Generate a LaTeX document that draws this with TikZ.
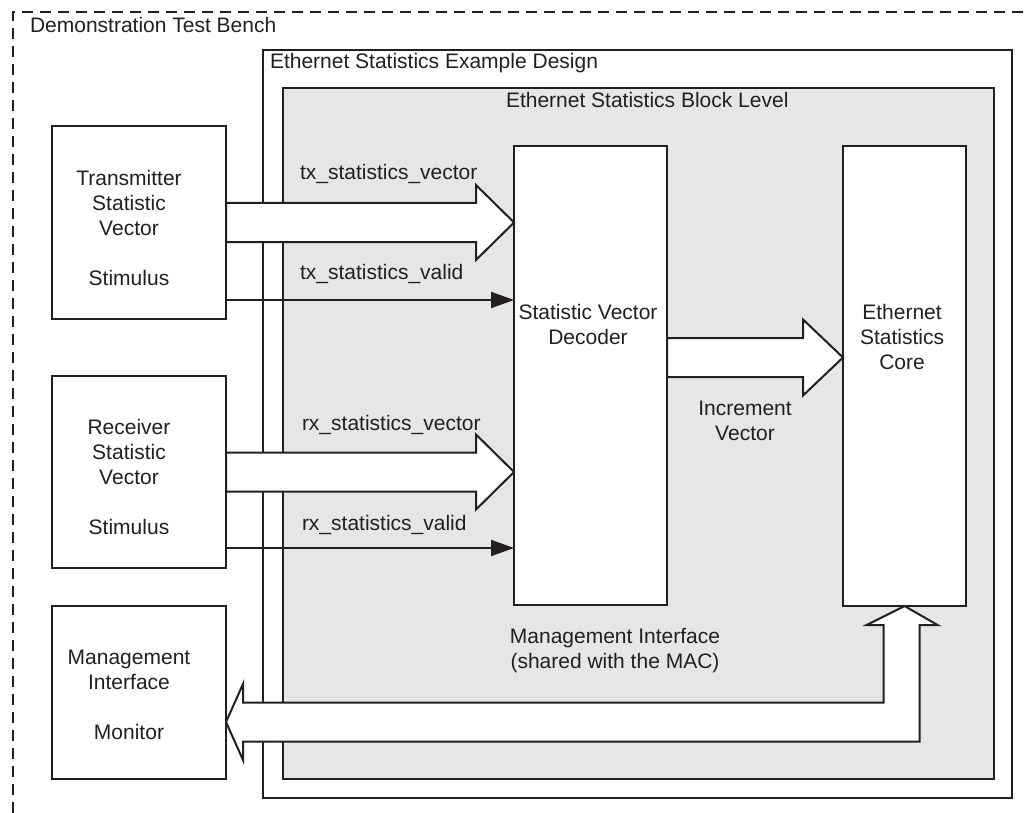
\documentclass[tikz,border=0pt]{standalone}
\usepackage{fontspec}
\setmainfont{Liberation Sans}
\usetikzlibrary{calc,arrows.meta}
\definecolor{linec}{HTML}{231F20}
\definecolor{blockgray}{HTML}{E5E6E8}
\tikzset{
  txt/.style={font=\fontsize{21}{25}\selectfont, text=linec, inner sep=0pt, outer sep=0pt},
  box/.style={draw=linec, line width=2pt, fill=white, inner sep=0pt, outer sep=0pt},
  fatarrow/.style={draw=linec, line width=2pt, fill=white, line join=miter},
  thinarrow/.style={draw=linec, line width=2pt, -{Triangle[length=23pt,width=16pt]}},
  dashborder/.style={draw=linec, line width=2pt, dash pattern=on 11pt off 7pt}
}
\begin{document}
\begin{tikzpicture}[x=1pt,y=-1pt]
\useasboundingbox (0,0) rectangle (1030,813);
% outer dashed test bench border
\coordinate (tbcorner) at (13,12);
\draw[dashborder] (13,813) -- (tbcorner) -- (1030,12);
\node[txt, anchor=base west] (tblabel) at (30,33) {Demonstration Test Bench};
% example design and block level
\node[box, minimum width=749pt, minimum height=748pt] (design) at (637.5,424) {};
\node[txt, anchor=base west] (designlabel) at (270,69) {Ethernet Statistics Example Design};
\node[box, fill=blockgray, minimum width=711pt, minimum height=691pt] (block) at (638.5,433.5) {};
\node[txt, anchor=base west] (blocklabel) at (506,108) {Ethernet Statistics Block Level};
% left stimulus / monitor boxes
\node[box, minimum width=174pt, minimum height=193pt] (txbox) at (139,222.5) {};
\node[txt, anchor=base, align=center] (txtext) at (129,285) {Transmitter\\Statistic\\Vector\\[25pt]Stimulus};
\node[box, minimum width=174pt, minimum height=192pt] (rxbox) at (139,472) {};
\node[txt, anchor=base, align=center] (rxtext) at (129,534) {Receiver\\Statistic\\Vector\\[25pt]Stimulus};
\node[box, minimum width=174pt, minimum height=173pt] (mgmt) at (139,692.5) {};
\node[txt, anchor=base, align=center] (mgmttext) at (129,739) {Management\\Interface\\[25pt]Monitor};
% decoder and core
\node[box, minimum width=153pt, minimum height=459pt] (dec) at (590.5,375.5) {};
\node[txt, anchor=base, align=center] (dectext) at (588,344) {Statistic Vector\\Decoder};
\node[box, minimum width=123pt, minimum height=460pt] (core) at (904.5,376) {};
\node[txt, anchor=base, align=center] (coretext) at (902,369) {Ethernet\\Statistics\\Core};
% tx vector fat arrow
\coordinate (txtip) at (dec.west |- txbox.east);
\draw[fatarrow] ($(txbox.east)+(0,-19.5)$) -- ($(txtip)+(-38,-19.5)$) -- ($(txtip)+(-38,-37.5)$) -- (txtip)
  -- ($(txtip)+(-38,37.5)$) -- ($(txtip)+(-38,19.5)$) -- ($(txbox.east)+(0,19.5)$) -- cycle;
\node[txt, anchor=base west] (txveclabel) at (300,179) {tx\_statistics\_vector};
\node[txt, anchor=base west] (txvallabel) at (300,279) {tx\_statistics\_valid};
\coordinate (txvalstart) at (txbox.east |- 0,300);
\draw[thinarrow] (txvalstart) -- (dec.west |- txvalstart);
% rx vector fat arrow
\coordinate (rxtip) at (dec.west |- rxbox.east);
\draw[fatarrow] ($(rxbox.east)+(0,-19.5)$) -- ($(rxtip)+(-38,-19.5)$) -- ($(rxtip)+(-38,-37.5)$) -- (rxtip)
  -- ($(rxtip)+(-38,37.5)$) -- ($(rxtip)+(-38,19.5)$) -- ($(rxbox.east)+(0,19.5)$) -- cycle;
\node[txt, anchor=base west] (rxveclabel) at (302,430) {rx\_statistics\_vector};
\node[txt, anchor=base west] (rxvallabel) at (302,530) {rx\_statistics\_valid};
\coordinate (rxvalstart) at (rxbox.east |- 0,548);
\draw[thinarrow] (rxvalstart) -- (dec.west |- rxvalstart);
% increment vector fat arrow
\coordinate (incstart) at (dec.east |- 0,357.5);
\coordinate (inctip) at (core.west |- incstart);
\draw[fatarrow] ($(incstart)+(0,-19.5)$) -- ($(inctip)+(-40,-19.5)$) -- ($(inctip)+(-40,-38)$) -- (inctip)
  -- ($(inctip)+(-40,38)$) -- ($(inctip)+(-40,19.5)$) -- ($(incstart)+(0,19.5)$) -- cycle;
\node[txt, anchor=base, align=center] (inclabel) at (745,440) {Increment\\Vector};
% management interface fat double arrow
\coordinate (mtip) at ($(mgmt.east)+(0,29.5)$);
\coordinate (mcorner) at (core.south |- mtip);
\draw[fatarrow] (mtip) -- ($(mtip)+(17,-38)$) -- ($(mtip)+(17,-19.5)$) -- ($(mcorner)+(-21,-19.5)$)
  -- ($(core.south)+(-21,19)$) -- ($(core.south)+(-38,19)$) -- (core.south) -- ($(core.south)+(33,19)$)
  -- ($(core.south)+(15,19)$) -- ($(mcorner)+(15,19.5)$) -- ($(mtip)+(17,19.5)$) -- ($(mtip)+(17,38)$) -- cycle;
\node[txt, anchor=base, align=center] (mgmtlabel) at (615,668) {Management Interface\\(shared with the MAC)};
\end{tikzpicture}
\end{document}
